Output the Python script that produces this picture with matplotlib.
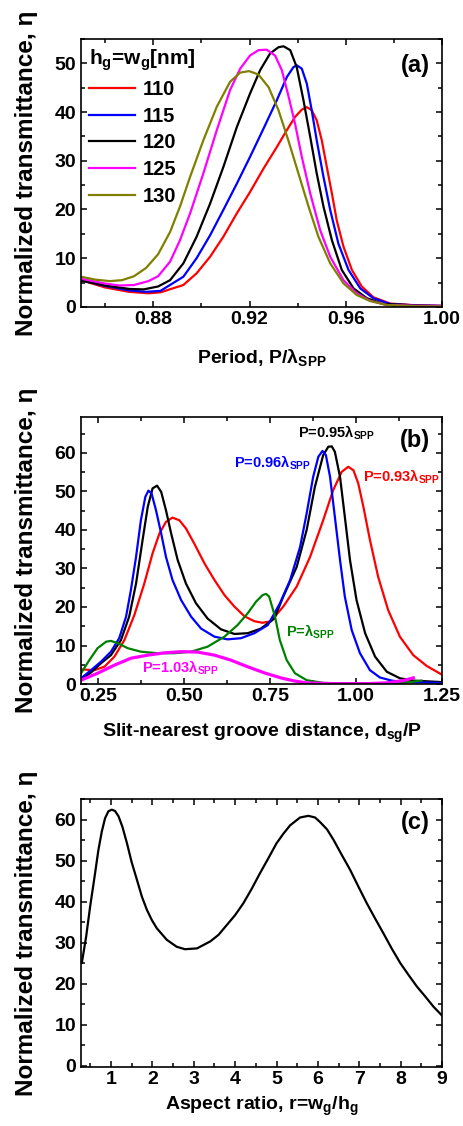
import matplotlib
matplotlib.use("Agg")
import matplotlib.pyplot as plt
from matplotlib.ticker import MultipleLocator, FormatStrFormatter

plt.rcParams['font.family'] = ['Liberation Sans', 'DejaVu Sans']
plt.rcParams['font.weight'] = 'bold'
plt.rcParams['axes.labelweight'] = 'bold'
plt.rcParams['mathtext.fontset'] = 'custom'
plt.rcParams['mathtext.rm'] = 'Liberation Sans:bold'
plt.rcParams['mathtext.it'] = 'Liberation Sans:bold'
plt.rcParams['mathtext.bf'] = 'Liberation Sans:bold'
plt.rcParams['mathtext.default'] = 'rm'

# ---- panel (a): transmittance vs period, for several groove sizes hg=wg ----
a_labels = ['110', '115', '120', '125', '130']
a_colors = ['#ff0000', '#0000ff', '#000000', '#ff00ff', '#808000']

a_x110 = [0.85, 0.86, 0.87, 0.878, 0.883, 0.8925, 0.898, 0.9036, 0.9091, 0.9147, 0.9202, 0.9258,
          0.9313, 0.9355, 0.9389, 0.9417, 0.9438, 0.9458, 0.9479, 0.95, 0.9521, 0.9542, 0.9562,
          0.959, 0.9625, 0.9666, 0.9714, 0.9784, 0.99, 1.00]
a_y110 = [5.5, 4.0, 3.1, 2.8, 3.0, 4.5, 6.9, 10.3, 14.4, 19.2, 23.6, 28.4,
          32.8, 36.3, 39.0, 40.5, 41.0, 40.4, 38.3, 34.2, 28.7, 23.3, 17.8,
          12.4, 7.6, 4.2, 2.0, 0.7, 0.3, 0.2]

a_x115 = [0.85, 0.86, 0.87, 0.877, 0.883, 0.8925, 0.898, 0.9036, 0.9091, 0.9147, 0.9202, 0.9258,
          0.9313, 0.9355, 0.9382, 0.9396, 0.9417, 0.9438, 0.9458, 0.9479, 0.9507, 0.9535, 0.9569,
          0.9611, 0.966, 0.9714, 0.9784, 0.99, 1.00]
a_y115 = [5.5, 4.3, 3.4, 3.1, 3.3, 6.2, 10.0, 14.7, 19.9, 25.3, 30.8, 36.6,
          42.4, 47.2, 49.2, 49.6, 48.9, 45.8, 40.4, 34.2, 26.7, 19.9, 13.0,
          7.6, 3.8, 1.8, 0.6, 0.3, 0.2]

a_x120 = [0.85, 0.86, 0.87, 0.876, 0.882, 0.887, 0.8925, 0.898, 0.9036, 0.9091, 0.9147, 0.9202,
          0.9244, 0.9285, 0.932, 0.9341, 0.9369, 0.9396, 0.9424, 0.9452, 0.9479, 0.9507, 0.9542,
          0.9583, 0.9632, 0.9687, 0.9756, 0.99, 1.00]
a_y120 = [5.4, 4.4, 3.7, 3.6, 4.2, 5.5, 8.95, 14.4, 21.2, 28.7, 36.9, 43.8,
          48.6, 52.0, 53.3, 53.5, 52.7, 49.2, 42.4, 34.9, 27.4, 20.6, 13.7,
          7.6, 3.8, 1.8, 0.6, 0.3, 0.2]

a_x125 = [0.85, 0.86, 0.866, 0.872, 0.878, 0.882, 0.887, 0.8911, 0.8953, 0.9008, 0.9064, 0.9119,
          0.9161, 0.9202, 0.9237, 0.9271, 0.9306, 0.9334, 0.9361, 0.9389, 0.9417, 0.9452, 0.9493,
          0.9535, 0.959, 0.9645, 0.97, 0.977, 0.99, 1.00]
a_y125 = [5.8, 4.8, 4.4, 4.5, 5.3, 6.3, 9.3, 13.7, 19.2, 27.4, 36.3, 44.5,
          48.9, 51.6, 52.7, 52.8, 51.6, 48.6, 43.4, 37.6, 30.8, 23.3, 15.8,
          10.3, 5.5, 2.8, 1.3, 0.4, 0.25, 0.2]

a_x130 = [0.85, 0.856, 0.862, 0.867, 0.872, 0.877, 0.882, 0.887, 0.8911, 0.8953, 0.9008, 0.9064,
          0.9119, 0.9161, 0.9198, 0.9237, 0.9279, 0.932, 0.9361, 0.9403, 0.9445, 0.9486, 0.9535,
          0.959, 0.9645, 0.97, 0.977, 0.99, 1.00]
a_y130 = [6.2, 5.6, 5.3, 5.5, 6.3, 8.0, 10.8, 15.4, 20.6, 26.7, 34.2, 41.1,
          46.2, 48.1, 48.4, 47.7, 45.1, 40.4, 34.2, 27.4, 20.6, 14.4, 8.95,
          4.85, 2.46, 1.23, 0.4, 0.15, 0.1]

# ---- panel (b): transmittance vs slit-nearest groove distance ----
b_x093 = [0.2, 0.239, 0.268, 0.297, 0.326, 0.355, 0.384, 0.408, 0.428, 0.447, 0.466, 0.486, 0.505,
          0.529, 0.559, 0.588, 0.617, 0.646, 0.675, 0.704, 0.728, 0.752, 0.788, 0.827, 0.866,
          0.904, 0.933, 0.958, 0.977, 0.992, 1.006, 1.021, 1.04, 1.064, 1.093, 1.127, 1.166,
          1.205, 1.25]
b_y093 = [3.8, 3.6, 4.5, 7.1, 11.4, 17.9, 26.1, 33.9, 39.1, 42.1, 43.2, 42.5, 40.4,
          36.5, 31.3, 27.0, 23.1, 20.1, 17.6, 16.3, 15.9, 16.3, 20.1, 25.3, 33.0,
          42.5, 50.3, 55.1, 56.4, 55.5, 52.1, 46.0, 37.4, 27.8, 19.2, 12.3, 7.5,
          4.7, 2.4]

b_x095 = [0.2, 0.229, 0.258, 0.287, 0.316, 0.34, 0.36, 0.379, 0.394, 0.408, 0.421, 0.433, 0.447,
          0.462, 0.481, 0.505, 0.534, 0.568, 0.607, 0.646, 0.685, 0.723, 0.762, 0.788, 0.827,
          0.856, 0.88, 0.904, 0.919, 0.929, 0.938, 0.953, 0.967, 0.982, 1.001, 1.026, 1.055,
          1.089, 1.127, 1.166, 1.25]
b_y095 = [1.2, 3.0, 5.4, 7.5, 11.4, 17.5, 26.1, 37.4, 46.0, 50.8, 51.5, 49.9, 45.1,
          39.1, 32.2, 26.1, 21.0, 17.0, 14.2, 13.0, 13.2, 14.4, 17.0, 22.7, 30.4,
          40.0, 51.2, 59.4, 61.6, 61.7, 60.3, 53.8, 43.4, 32.2, 21.8, 13.2, 7.1,
          3.2, 1.5, 0.9, 0.5]

b_x096 = [0.2, 0.229, 0.258, 0.287, 0.311, 0.331, 0.345, 0.36, 0.374, 0.387, 0.396, 0.405, 0.418,
          0.433, 0.447, 0.466, 0.491, 0.52, 0.549, 0.588, 0.626, 0.665, 0.704, 0.743, 0.778,
          0.808, 0.837, 0.856, 0.875, 0.89, 0.902, 0.912, 0.924, 0.938, 0.953, 0.967, 0.987,
          1.011, 1.04, 1.069, 1.103, 1.137, 1.25]
b_y096 = [1.5, 3.6, 5.8, 8.4, 11.9, 17.5, 24.4, 33.0, 42.5, 48.6, 50.2, 49.5, 45.1,
          39.1, 33.0, 27.0, 21.8, 17.5, 14.4, 12.3, 11.6, 11.9, 13.2, 15.3, 20.9,
          27.0, 35.6, 44.3, 53.8, 59.0, 60.5, 59.4, 53.8, 43.4, 32.2, 22.7, 14.0,
          8.0, 3.6, 1.7, 0.9, 0.5, 0.3]

b_x100 = [0.2, 0.224, 0.248, 0.273, 0.287, 0.307, 0.336, 0.374, 0.423, 0.471, 0.52, 0.568, 0.617,
          0.655, 0.684, 0.709, 0.728, 0.738, 0.747, 0.764, 0.778, 0.798, 0.822, 0.856, 0.904,
          0.95, 1.05, 1.13, 1.165, 1.19]
b_y100 = [2.8, 6.2, 9.3, 11.0, 11.2, 10.6, 9.3, 8.4, 8.0, 8.0, 8.4, 9.7, 12.3,
          15.3, 18.3, 21.4, 23.1, 23.4, 22.7, 17.5, 11.4, 6.2, 2.8, 1.0, 0.3,
          0.2, 0.2, 0.3, 0.6, 0.9]

b_x103 = [0.2, 0.248, 0.297, 0.345, 0.394, 0.442, 0.491, 0.539, 0.588, 0.636, 0.684, 0.733, 0.781,
          0.820, 0.856, 0.93, 1.03, 1.089, 1.137, 1.166]
b_y103 = [1.0, 2.8, 4.9, 6.7, 7.5, 8.1, 8.4, 8.3, 7.5, 6.2, 4.5, 2.9, 1.6,
          0.8, 0.3, 0.1, 0.1, 0.3, 0.9, 1.6]

# ---- panel (c): transmittance vs aspect ratio ----
c_x = [0.3, 0.404, 0.5, 0.606, 0.7, 0.78, 0.86, 0.94, 1.02, 1.1, 1.185, 1.28, 1.39, 1.5, 1.63,
       1.75, 1.87, 1.99, 2.11, 2.35, 2.59, 2.79, 3.08, 3.4, 3.6, 3.8, 4.0, 4.2, 4.4, 4.6, 4.8,
       5.0, 5.17, 5.33, 5.57, 5.77, 5.93, 6.05, 6.22, 6.38, 6.58, 6.78, 6.98, 7.18, 7.38, 7.58,
       7.78, 7.99, 8.19, 8.39, 8.59, 8.79, 9.0]
c_y = [25.1, 31.5, 38.8, 46.0, 52.6, 57.0, 60.3, 62.0, 62.4, 62.1, 60.8, 58.2, 54.2, 49.7, 45.3,
       41.2, 38.0, 35.5, 33.5, 30.7, 29.0, 28.4, 28.6, 30.3, 31.9, 34.3, 36.7, 39.6, 43.1, 46.9, 50.5,
       54.2, 56.6, 58.6, 60.5, 60.9, 60.5, 59.4, 57.6, 55.0, 51.3, 47.7, 43.6, 39.6, 35.9, 32.3,
       28.6, 25.0, 22.1, 19.3, 16.9, 14.4, 12.2]

ylabel = 'Normalized transmittance, η'


def style_axes(ax, xmaj, xmin, ymaj, ymin):
    ax.xaxis.set_major_locator(MultipleLocator(xmaj))
    ax.xaxis.set_minor_locator(MultipleLocator(xmin))
    ax.yaxis.set_major_locator(MultipleLocator(ymaj))
    ax.yaxis.set_minor_locator(MultipleLocator(ymin))
    ax.tick_params(which='both', direction='in', top=True, right=True, width=1.1)
    ax.tick_params(which='major', length=4.5, labelsize=14)
    ax.tick_params(which='minor', length=3)
    ax.tick_params(axis='x', pad=3)
    ax.tick_params(axis='y', pad=3.5)
    for s in ax.spines.values():
        s.set_linewidth(1.2)
    ax.set_ylabel(ylabel, fontsize=17.5)
    ax.yaxis.set_label_coords(-0.12, 0.5)


fig = plt.figure(figsize=(4.63, 11.26), dpi=100)

# (a)
ax1 = fig.add_axes([0.175, 0.7274, 0.780, 0.238])
a_xs = [a_x110, a_x115, a_x120, a_x125, a_x130]
a_ys = [a_y110, a_y115, a_y120, a_y125, a_y130]
for xs, ys, c, lab in zip(a_xs, a_ys, a_colors, a_labels):
    ax1.plot(xs, ys, color=c, lw=1.6, label=lab)
ax1.set_xlim(0.85, 1.00)
ax1.set_ylim(0, 55)
style_axes(ax1, 0.04, 0.02, 10, 5)
ax1.xaxis.set_major_formatter(FormatStrFormatter('%.2f'))
ax1.set_xlabel(r'Period, P/$\lambda_{SPP}$', fontsize=14)
ax1.xaxis.set_label_coords(0.5, -0.15)
ax1.legend(title='h$_g$=w$_g$[nm]', loc='upper left', frameon=False, fontsize=14.5,
           title_fontsize=15, handlelength=2.3, handletextpad=0.35, labelspacing=0.38,
           borderaxespad=0.2, borderpad=0.2, alignment='left')
ax1.text(0.965, 0.90, '(a)', transform=ax1.transAxes, fontsize=17, ha='right', va='center')

# (b)
ax2 = fig.add_axes([0.175, 0.3925, 0.780, 0.2371])
ax2.plot(b_x093, b_y093, color='#ff0000', lw=1.6)
ax2.plot(b_x095, b_y095, color='#000000', lw=1.6)
ax2.plot(b_x096, b_y096, color='#0000ff', lw=1.6)
ax2.plot(b_x100, b_y100, color='#008000', lw=1.6)
ax2.plot(b_x103, b_y103, color='#ff00ff', lw=2.3)
ax2.set_xlim(0.2, 1.25)
ax2.set_ylim(0, 69.3)
style_axes(ax2, 0.25, 0.125, 10, 5)
ax2.xaxis.set_major_formatter(FormatStrFormatter('%.2f'))
ax2.set_xlabel(r'Slit-nearest groove distance, d$_{sg}$/P', fontsize=14)
ax2.xaxis.set_label_coords(0.5, -0.14)
ann = dict(fontsize=10.5, ha='left', va='center')
ax2.text(0.831, 65.1, r'P=0.95$\lambda_{SPP}$', color='#000000', **ann)
ax2.text(0.645, 57.3, r'P=0.96$\lambda_{SPP}$', color='#0000ff', **ann)
ax2.text(1.02, 53.7, r'P=0.93$\lambda_{SPP}$', color='#ff0000', **ann)
ax2.text(0.796, 13.5, r'P=$\lambda_{SPP}$', color='#008000', **ann)
ax2.text(0.377, 4.1, r'P=1.03$\lambda_{SPP}$', color='#ff00ff', **ann)
ax2.text(0.965, 0.914, '(b)', transform=ax2.transAxes, fontsize=17, ha='right', va='center')

# (c)
ax3 = fig.add_axes([0.175, 0.0524, 0.780, 0.238])
ax3.plot(c_x, c_y, color='#000000', lw=1.6)
ax3.set_xlim(0.28, 9)
ax3.set_ylim(-0.3, 65)
style_axes(ax3, 1, 0.5, 10, 5)
ax3.set_xlabel(r'Aspect ratio, r=w$_g$/h$_g$', fontsize=14)
ax3.xaxis.set_label_coords(0.5, -0.105)
ax3.text(0.965, 0.914, '(c)', transform=ax3.transAxes, fontsize=17, ha='right', va='center')

fig.savefig('out.png', dpi=100)
